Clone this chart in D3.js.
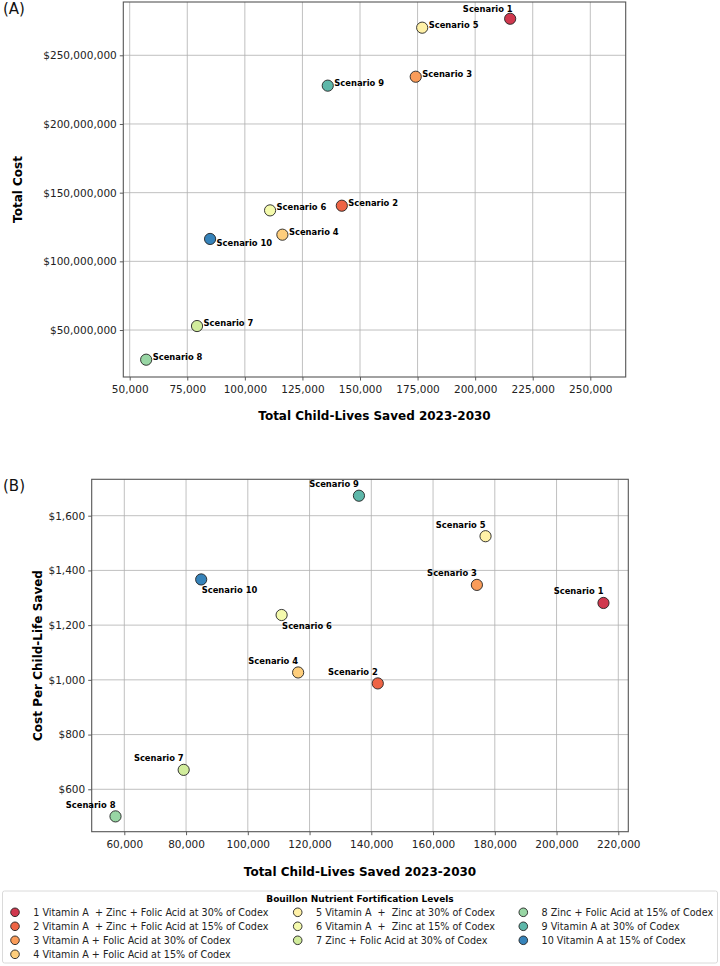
<!DOCTYPE html>
<html lang="en">
<head>
<meta charset="UTF-8">
<script src="https://d3js.org/d3.v7.min.js"></script>
<title>Bouillon fortification scenarios</title>
<style>
  body { margin: 0; background: #fff; }
  text { font-family: "DejaVu Sans", sans-serif; }
</style>
</head>
<body>
<script>
// data
var scenarios = ["Scenario 1", "Scenario 2", "Scenario 3", "Scenario 4", "Scenario 5",
                 "Scenario 6", "Scenario 7", "Scenario 8", "Scenario 9", "Scenario 10"]
var livesSaved = [215200, 142100, 174200, 116300, 177000, 110950, 79230, 57150, 136000, 84900]
var totalCost = [276.6e6, 140.5e6, 234.4e6, 119.4e6, 270.1e6, 137.1e6, 52.9e6, 28.4e6, 227.9e6, 116.3e6]
var costPerLife = [1281, 987, 1347, 1027, 1525, 1237, 671, 501, 1673, 1367]
var legendLabels = [
    "1 Vitamin A  + Zinc + Folic Acid at 30% of Codex",
    "2 Vitamin A  + Zinc + Folic Acid at 15% of Codex",
    "3 Vitamin A + Folic Acid at 30% of Codex",
    "4 Vitamin A + Folic Acid at 15% of Codex",
    "5 Vitamin A  +  Zinc at 30% of Codex",
    "6 Vitamin A  +  Zinc at 15% of Codex",
    "7 Zinc + Folic Acid at 30% of Codex",
    "8 Zinc + Folic Acid at 15% of Codex",
    "9 Vitamin A at 30% of Codex",
    "10 Vitamin A at 15% of Codex"
]
var xTicksA = [50000, 75000, 100000, 125000, 150000, 175000, 200000, 225000, 250000]
var yTicksA = [50e6, 100e6, 150e6, 200e6, 250e6]
var xTicksB = [60000, 80000, 100000, 120000, 140000, 160000, 180000, 200000, 220000]
var yTicksB = [600, 800, 1000, 1200, 1400, 1600]

// Spectral palette, 10 samples
var colors = ["#d0384e", "#ee6445", "#fa9c59", "#fece7c", "#fff1a7",
              "#f4faad", "#d1ec9c", "#98d6a4", "#5db7a9", "#3683ba"]

// where each label sits relative to its point
var placeA = ["upleft", "right", "right", "right", "right", "right", "right", "right", "right", "downright"]
var placeB = ["upleft", "upleft", "upleft", "upleft", "upleft", "down", "upleft", "upleft", "upleft", "down"]

var W = 720, H = 966
var svg = d3.select("body").append("svg")
    .attr("width", W).attr("height", H)

var pts = scenarios.map(function (s, i) {
    return { name: s, lives: livesSaved[i], cost: totalCost[i], per: costPerLife[i], i: i }
})

function panel(opt) {
    var x = d3.scaleLinear().domain(opt.xDomain).range([opt.left, opt.right])
    var y = d3.scaleLinear().domain(opt.yDomain).range([opt.bottom, opt.top])
    var g = svg.append("g")

    // grid
    g.selectAll(".gx").data(opt.xTicks).enter().append("line")
        .attr("x1", function (d) { return x(d) }).attr("x2", function (d) { return x(d) })
        .attr("y1", opt.top).attr("y2", opt.bottom)
        .attr("stroke", "#b0b0b0").attr("stroke-width", 0.8)
    g.selectAll(".gy").data(opt.yTicks).enter().append("line")
        .attr("y1", function (d) { return y(d) }).attr("y2", function (d) { return y(d) })
        .attr("x1", opt.left).attr("x2", opt.right)
        .attr("stroke", "#b0b0b0").attr("stroke-width", 0.8)

    // axes
    var xa = g.append("g").attr("transform", "translate(0," + opt.bottom + ")")
        .call(d3.axisBottom(x).tickValues(opt.xTicks).tickFormat(d3.format(",")).tickSizeOuter(0).tickSize(3.5))
    var ya = g.append("g").attr("transform", "translate(" + opt.left + ",0)")
        .call(d3.axisLeft(y).tickValues(opt.yTicks).tickFormat(d3.format("$,")).tickSizeOuter(0).tickSize(3.5))
    ;[xa, ya].forEach(function (a) {
        a.select(".domain").remove()
        a.selectAll("line").attr("stroke", "#333").attr("stroke-width", 0.8)
        a.selectAll("text").attr("font-size", "10.5px").attr("fill", "#222")
            .style("font-family", "DejaVu Sans")
    })
    xa.selectAll("text").attr("dy", "0.95em")

    // frame
    g.append("rect")
        .attr("x", opt.left).attr("y", opt.top)
        .attr("width", opt.right - opt.left).attr("height", opt.bottom - opt.top)
        .attr("fill", "none").attr("stroke", "#555").attr("stroke-width", 1.1)

    // points
    g.selectAll("circle").data(pts).enter().append("circle")
        .attr("cx", function (d) { return x(d.lives) })
        .attr("cy", function (d) { return y(opt.yVal(d)) })
        .attr("r", 5.6)
        .attr("fill", function (d) { return colors[d.i] })
        .attr("stroke", "#222").attr("stroke-width", 0.9)

    // labels
    g.selectAll(".lab").data(pts).enter().append("text")
        .attr("font-size", "8.4px").attr("font-weight", "bold").attr("fill", "#000")
        .attr("x", function (d) {
            var p = opt.place[d.i], cx = x(d.lives)
            if (p == "right" || p == "downright") return cx + 6.5
            if (p == "down") return cx + 0.5
            return cx + opt.upDx
        })
        .attr("y", function (d) {
            var p = opt.place[d.i], cy = y(opt.yVal(d))
            if (p == "right") return cy
            if (p == "downright") return cy + 7.5
            if (p == "down") return cy + 14
            return cy + opt.upDy
        })
        .attr("text-anchor", function (d) {
            return opt.place[d.i] == "upleft" ? "end" : "start"
        })
        .text(function (d) { return d.name })

    // axis titles
    g.append("text")
        .attr("x", (opt.left + opt.right) / 2).attr("y", opt.xTitleY)
        .attr("text-anchor", "middle").attr("font-size", "12px").attr("font-weight", "bold")
        .text(opt.xTitle)
    g.append("text")
        .attr("transform", "translate(" + opt.yTitleX + "," + (opt.top + opt.bottom) / 2 + ") rotate(-90)")
        .attr("text-anchor", "middle").attr("font-size", "12px").attr("font-weight", "bold")
        .text(opt.yTitle)

    // panel tag
    g.append("text").attr("x", 3).attr("y", opt.tagY)
        .attr("font-size", "15px").attr("fill", "#111").text(opt.tag)
}

panel({
    left: 123.3, right: 625.7, top: 2, bottom: 377,
    xDomain: [47220, 265370], yDomain: [15.8e6, 288.8e6],
    xTicks: xTicksA, yTicks: yTicksA,
    yVal: function (d) { return d.cost },
    place: placeA, upDx: 2.5, upDy: -6.8,
    xTitle: "Total Child-Lives Saved 2023-2030", xTitleY: 420,
    yTitle: "Total Cost", yTitleX: 22,
    tag: "(A)", tagY: 14
})

panel({
    left: 91.7, right: 628.3, top: 479.3, bottom: 831.7,
    xDomain: [49440, 223240], yDomain: [445, 1733],
    xTicks: xTicksB, yTicks: yTicksB,
    yVal: function (d) { return d.per },
    place: placeB, upDx: 0, upDy: -8.5,
    xTitle: "Total Child-Lives Saved 2023-2030", xTitleY: 876,
    yTitle: "Cost Per Child-Life Saved", yTitleX: 42,
    tag: "(B)", tagY: 491
})

// legend
var lg = svg.append("g")
lg.append("rect")
    .attr("x", 2.5).attr("y", 891).attr("width", 715).attr("height", 72)
    .attr("rx", 2).attr("fill", "#fff").attr("stroke", "#d0d0d0").attr("stroke-width", 0.8)
lg.append("text")
    .attr("x", 360).attr("y", 901.5).attr("text-anchor", "middle")
    .attr("font-size", "9px").attr("font-weight", "bold")
    .text("Bouillon Nutrient Fortification Levels")

var colX = [15, 297.7, 523.3]
var rowY = [912.3, 926.3, 940.3, 954.3]
var legendCells = legendLabels.map(function (l, i) {
    var col = i < 4 ? 0 : (i < 7 ? 1 : 2)
    var row = i < 4 ? i : (i < 7 ? i - 4 : i - 7)
    return { label: l, i: i, col: col, row: row }
})
var items = lg.selectAll(".item").data(legendCells).enter().append("g")
    .attr("transform", function (d) { return "translate(" + colX[d.col] + "," + rowY[d.row] + ")" })
items.append("circle").attr("r", 4.3)
    .attr("fill", function (d) { return colors[d.i] })
    .attr("stroke", "#222").attr("stroke-width", 0.9)
items.append("text")
    .attr("x", 18.3).attr("dy", "0.35em")
    .attr("font-size", "9.6px").attr("fill", "#222")
    .style("white-space", "pre")
    .text(function (d) { return d.label })
</script>
</body>
</html>
